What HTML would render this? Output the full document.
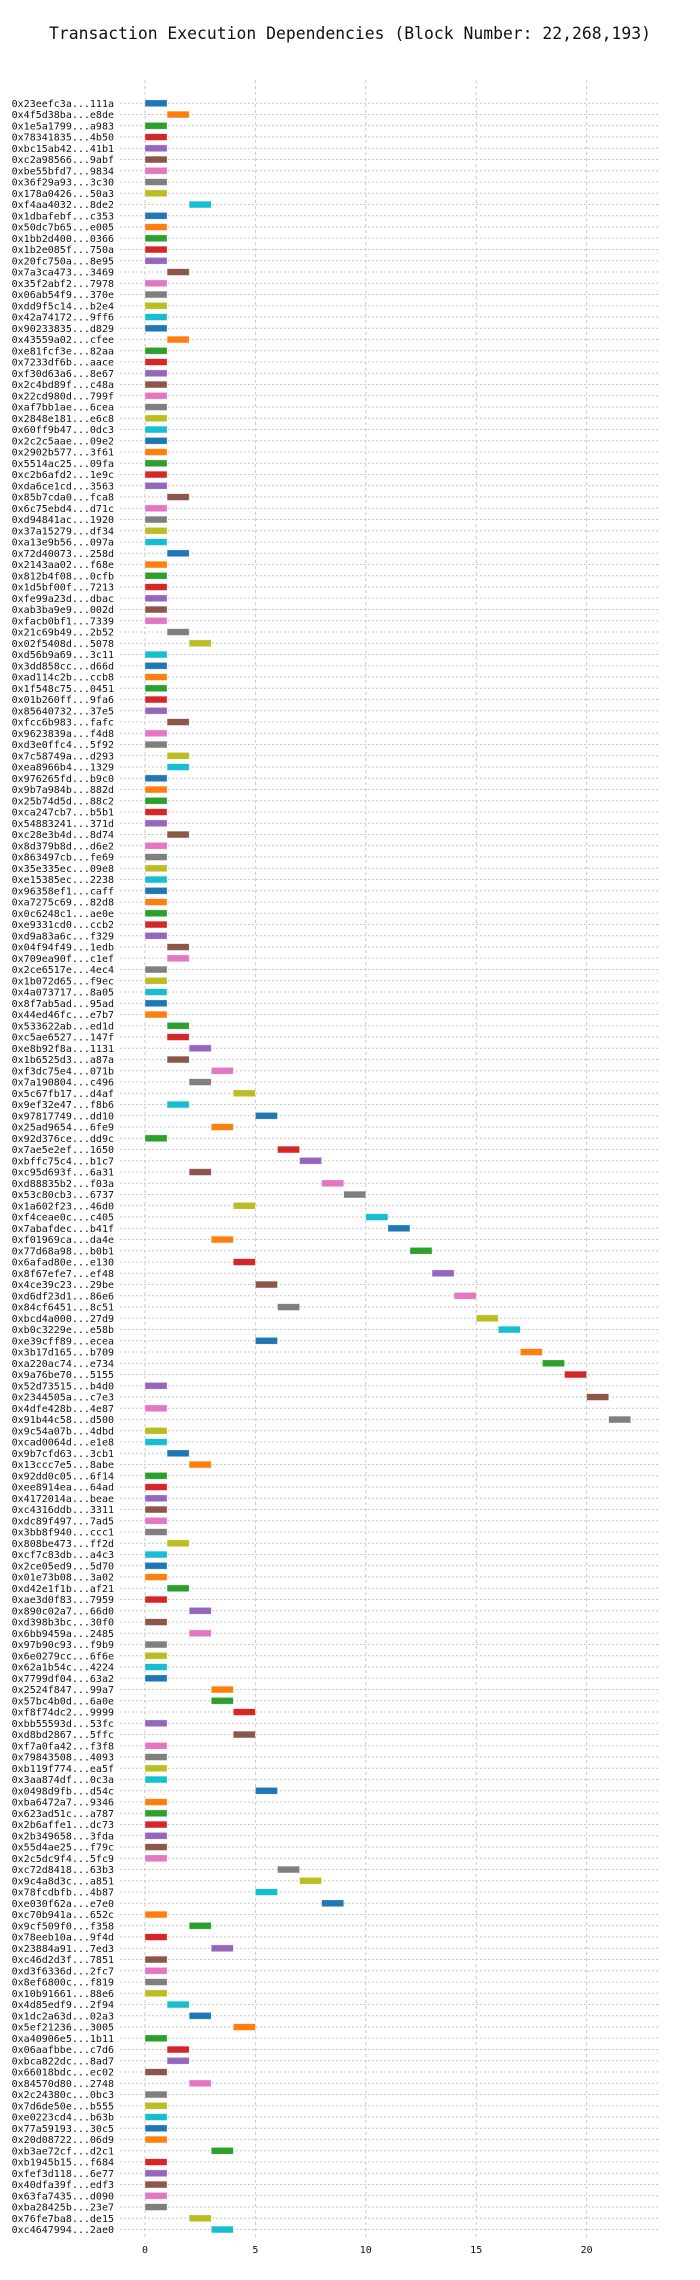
<!DOCTYPE html>
<html><head><meta charset="utf-8"><style>
html,body{margin:0;padding:0;background:#fff;}
svg{display:block;}
</style></head><body>
<svg id="chart" width="700" height="2280" xmlns="http://www.w3.org/2000/svg" font-family="'DejaVu Sans Mono','Liberation Mono',monospace">
<text x="350" y="39" text-anchor="middle" font-size="16.4" fill="#111">Transaction Execution Dependencies (Block Number: 22,268,193)</text>
<g id="grid"></g>
<g id="bars"></g>
<g id="labels"></g>
<g id="xticks"></g>
</svg>
<script>
const txLabels = ["0x23eefc3a...111a","0x4f5d38ba...e8de","0x1e5a1799...a983","0x78341835...4b50","0xbc15ab42...41b1","0xc2a98566...9abf","0xbe55bfd7...9834","0x36f29a93...3c30","0x178a0426...50a3","0xf4aa4032...8de2","0x1dbafebf...c353","0x50dc7b65...e005","0x1bb2d400...0366","0x1b2e085f...750a","0x20fc750a...8e95","0x7a3ca473...3469","0x35f2abf2...7978",
"0x06ab54f9...370e","0xdd9f5c14...b2e4","0x42a74172...9ff6","0x90233835...d829","0x43559a02...cfee","0xe81fcf3e...82aa","0x7233df6b...aace","0xf30d63a6...8e67","0x2c4bd89f...c48a","0x22cd980d...799f","0xaf7bb1ae...6cea","0x2848e181...e6c8","0x60ff9b47...0dc3","0x2c2c5aae...09e2","0x2902b577...3f61","0x5514ac25...09fa","0xc2b6afd2...1e9c","0xda6ce1cd...3563",
"0x85b7cda0...fca8","0x6c75ebd4...d71c","0xd94841ac...1920","0x37a15279...df34","0xa13e9b56...097a","0x72d40073...258d","0x2143aa02...f68e","0x812b4f08...0cfb","0x1d5bf00f...7213","0xfe99a23d...dbac","0xab3ba9e9...002d","0xfacb0bf1...7339","0x21c69b49...2b52","0x02f5408d...5078","0xd56b9a69...3c11","0x3dd858cc...d66d","0xad114c2b...ccb8","0x1f548c75...0451","0x01b260ff...9fa6","0x85640732...37e5",
"0xfcc6b983...fafc","0x9623839a...f4d8","0xd3e0ffc4...5f92","0x7c58749a...d293","0xea8966b4...1329","0x976265fd...b9c0","0x9b7a984b...882d","0x25b74d5d...88c2","0xca247cb7...b5b1","0x54883241...371d","0xc28e3b4d...8d74","0x8d379b8d...d6e2","0x863497cb...fe69","0x35e335ec...09e8","0xe15385ec...2238","0x96358ef1...caff","0xa7275c69...82d8","0x0c6248c1...ae0e","0xe9331cd0...ccb2",
"0xd9a83a6c...f329","0x04f94f49...1edb","0x709ea90f...c1ef","0x2ce6517e...4ec4","0x1b072d65...f9ec","0x4a073717...8a05","0x8f7ab5ad...95ad","0x44ed46fc...e7b7","0x533622ab...ed1d","0xc5ae6527...147f","0xe8b92f8a...1131","0x1b6525d3...a87a","0xf3dc75e4...071b","0x7a190804...c496","0x5c67fb17...d4af","0x9ef32e47...f8b6","0x97817749...dd10","0x25ad9654...6fe9","0x92d376ce...dd9c","0x7ae5e2ef...1650",
"0xbffc75c4...b1c7","0xc95d693f...6a31","0xd88835b2...f03a","0x53c80cb3...6737","0x1a602f23...46d0","0xf4ceae0c...c405","0x7abafdec...b41f","0xf01969ca...da4e","0x77d68a98...b0b1","0x6afad80e...e130","0x8f67efe7...ef48","0x4ce39c23...29be","0xd6df23d1...86e6","0x84cf6451...8c51","0xbcd4a000...27d9","0xb0c3229e...e58b","0xe39cff89...ecea","0x3b17d165...b709","0xa220ac74...e734",
"0x9a76be70...5155","0x52d73515...b4d0","0x2344505a...c7e3","0x4dfe428b...4e87","0x91b44c58...d500","0x9c54a07b...4dbd","0xcad0064d...e1e8","0x9b7cfd63...3cb1","0x13ccc7e5...8abe","0x92dd0c05...6f14","0xee8914ea...64ad","0x4172014a...beae","0xc4316ddb...3311","0xdc89f497...7ad5","0x3bb8f940...ccc1","0x808be473...ff2d","0xcf7c83db...a4c3","0x2ce05ed9...5d70","0x01e73b08...3a02","0xd42e1f1b...af21",
"0xae3d0f83...7959","0x890c02a7...66d0","0xd398b3bc...30f0","0x6bb9459a...2485","0x97b90c93...f9b9","0x6e0279cc...6f6e","0x62a1b54c...4224","0x7799df04...63a2","0x2524f847...99a7","0x57bc4b0d...6a0e","0xf8f74dc2...9999","0xbb55593d...53fc","0xd8bd2867...5ffc","0xf7a0fa42...f3f8","0x79843508...4093","0xb119f774...ea5f","0x3aa874df...0c3a","0x0498d9fb...d54c","0xba6472a7...9346",
"0x623ad51c...a787","0x2b6affe1...dc73","0x2b349658...3fda","0x55d4ae25...f79c","0x2c5dc9f4...5fc9","0xc72d8418...63b3","0x9c4a8d3c...a851","0x78fcdbfb...4b87","0xe030f62a...e7e0","0xc70b941a...652c","0x9cf509f0...f358","0x78eeb10a...9f4d","0x23884a91...7ed3","0xc46d2d3f...7851","0xd3f6336d...2fc7","0x8ef6800c...f819","0x10b91661...88e6","0x4d85edf9...2f94","0x1dc2a63d...02a3","0x5ef21236...3005",
"0xa40906e5...1b11","0x06aafbbe...c7d6","0xbca822dc...8ad7","0x66018bdc...ec02","0x84570d80...2748","0x2c24380c...0bc3","0x7d6de50e...b555","0xe0223cd4...b63b","0x77a59193...30c5","0x20d08722...06d9","0xb3ae72cf...d2c1","0xb1945b15...f684","0xfef3d118...6e77","0x40dfa39f...edf3","0x63fa7435...d090","0xba28425b...23e7","0x76fe7ba8...de15","0xc4647994...2ae0"];
const startTimes = [0,1,0,0,0,0,0,0,0,2,0,0,0,0,0,1,0,
0,0,0,0,1,0,0,0,0,0,0,0,0,0,0,0,0,0,
1,0,0,0,0,1,0,0,0,0,0,0,1,2,0,0,0,0,0,0,
1,0,0,1,1,0,0,0,0,0,1,0,0,0,0,0,0,0,0,
0,1,1,0,0,0,0,0,1,1,2,1,3,2,4,1,5,3,0,6,
7,2,8,9,4,10,11,3,12,4,13,5,14,6,15,16,5,17,18,
19,0,20,0,21,0,0,1,2,0,0,0,0,0,0,1,0,0,0,1,
0,2,0,2,0,0,0,0,3,3,4,0,4,0,0,0,0,5,0,
0,0,0,0,0,6,7,5,8,0,2,0,3,0,0,0,0,1,2,4,
0,1,1,0,2,0,0,0,0,0,3,0,0,0,0,0,2,3];
const durations = txLabels.map(() => 1);
const xTicks = [0,5,10,15,20];
const palette = ["#1f77b4","#ff7f0e","#2ca02c","#d62728","#9467bd","#8c564b","#e377c2","#7f7f7f","#bcbd22","#17becf"];

const NS = "http://www.w3.org/2000/svg";
const x0 = 145, xUnit = 22.08, plotL = 120, plotR = 658, plotT = 80, plotB = 2238;
const y0 = 103.3, rowH = 11.25;
const xs = v => x0 + v * xUnit;
const ys = i => y0 + i * rowH;
function mk(tag, attrs, parent) { const e = document.createElementNS(NS, tag); for (const k in attrs) e.setAttribute(k, attrs[k]); parent.appendChild(e); return e; }
const grid = document.getElementById('grid'), bars = document.getElementById('bars'), labels = document.getElementById('labels'), xt = document.getElementById('xticks');

txLabels.forEach((lab, i) => {
  const gl = mk('line', {x1: plotL, x2: plotR, y1: ys(i), y2: ys(i), stroke: '#c8c8c8', 'stroke-width': 1, 'stroke-dasharray': '2,2'}, grid);
  
  
});
xTicks.forEach(t => {
  const vl = mk('line', {x1: xs(t), x2: xs(t), y1: plotT, y2: plotB, stroke: '#c8c8c8', 'stroke-width': 1, 'stroke-dasharray': '3,3'}, grid);
  
  
  const tl = mk('text', {x: xs(t), y: 2253, 'text-anchor': 'middle', 'font-size': 10, fill: '#111'}, xt);
  tl.textContent = t;
  
  
});
txLabels.forEach((lab, i) => {
  const r = mk('rect', {x: xs(startTimes[i]), y: ys(i) - 3.4, width: durations[i] * xUnit, height: 6.8, fill: palette[i % 10], stroke: 'rgba(255,255,255,0.6)', 'stroke-width': 0.6}, bars);
  
  
  const t = mk('text', {x: 114, y: ys(i) + 3.5, 'text-anchor': 'end', 'font-size': 10, fill: '#111'}, labels);
  t.textContent = lab;
  
  
});
</script>
</body></html>
